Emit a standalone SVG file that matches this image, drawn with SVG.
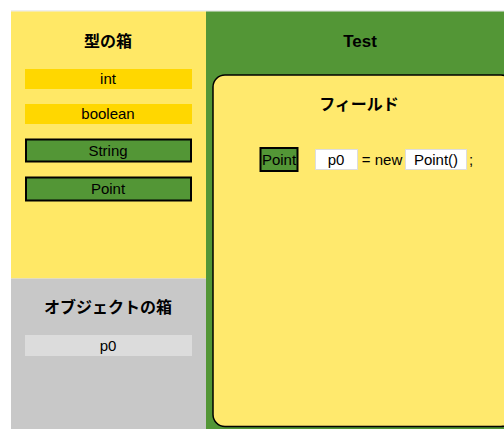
<svg xmlns="http://www.w3.org/2000/svg" width="504" height="429" viewBox="0 0 504 429">
<style>
text{font-family:"Liberation Sans","Noto Sans CJK JP",sans-serif;fill:#000;text-anchor:middle}
.t{font-size:16px;font-weight:bold}
.l{font-size:15px}
.gold{fill:#FFD700}
.grn{fill:#539636;stroke:#000;stroke-width:2}
.wht{fill:#fff;stroke:#ddd;stroke-width:1}
</style>
<rect x="0" y="0" width="504" height="429" fill="#fff"/>
<line x1="11" y1="11" x2="504" y2="11" stroke="#ddd" stroke-width="1"/>
<g id="types-panel">
<rect x="11" y="11.5" width="195" height="267" fill="#FFE866"/>
<text class="t" x="108" y="47">型の箱</text>
</g>
<g id="int"><rect class="gold" x="25" y="69" width="167" height="20"/><text class="l" x="108" y="84">int</text></g>
<g id="boolean"><rect class="gold" x="25" y="104" width="167" height="20"/><text class="l" x="108" y="119">boolean</text></g>
<g id="String"><rect class="grn" x="26" y="139.5" width="165" height="22"/><text class="l" x="108" y="156">String</text></g>
<g id="Point"><rect class="grn" x="26" y="177.5" width="165" height="23"/><text class="l" x="108" y="194">Point</text></g>
<g id="objects-panel">
<rect x="11" y="278.5" width="195" height="151" fill="#C8C8C8"/>
<text class="t" x="108" y="313">オブジェクトの箱</text>
</g>
<g id="obj-p0"><rect x="25" y="335" width="167" height="21" fill="#DCDCDC"/><text class="l" x="108" y="351">p0</text></g>
<g id="Test">
<rect x="206" y="11.5" width="298" height="418" fill="#539636"/>
<text class="t" x="360" y="47" style="font-size:17px">Test</text>
</g>
<g id="field">
<rect x="213" y="75" width="300" height="351.5" rx="12" ry="12" fill="#FFE96D" stroke="#000" stroke-width="1.5"/>
<text class="t" x="359" y="110">フィールド</text>
</g>
<g id="field-type"><rect class="grn" x="260.5" y="148" width="37" height="23"/><text class="l" x="279" y="165">Point</text></g>
<g id="field-name"><rect class="wht" x="315.5" y="149.5" width="42" height="20"/><text class="l" x="336" y="165">p0</text></g>
<text class="l" x="382" y="165">= new</text>
<g id="field-init"><rect class="wht" x="405.5" y="149.5" width="61" height="20"/><text class="l" x="436" y="165">Point()</text></g>
<text class="l" x="471" y="165">;</text>
<g id="connectors"/>
</svg>
